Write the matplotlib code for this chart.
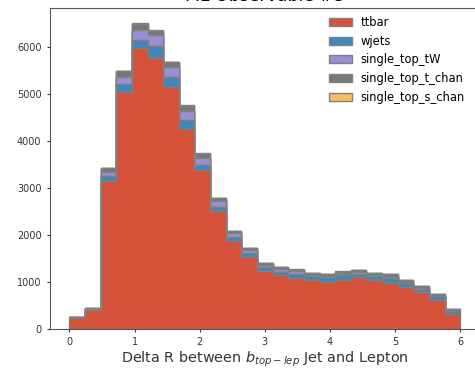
import numpy as np
import matplotlib
matplotlib.use('Agg')
import matplotlib.pyplot as plt

# bin edges: 25 bins between 0 and 6
edges = np.linspace(0, 6, 26)
centers = 0.5 * (edges[:-1] + edges[1:])

labels = ['ttbar', 'wjets', 'single_top_tW', 'single_top_t_chan', 'single_top_s_chan']
colors = ['#D4523A', '#3F86BC', '#9A8FD6', '#777777', '#F5BE5E']

ttbar = [230, 405, 3150, 5030, 5970, 5760, 5150, 4250, 3380, 2500, 1870, 1530, 1240,
         1145, 1090, 1040, 1000, 1045, 1115, 1040, 990, 905, 795, 620, 313]
wjets = [12, 18, 100, 178, 170, 262, 198, 198, 110, 85, 90, 85, 76,
         72, 92, 82, 107, 107, 67, 87, 102, 67, 57, 77, 62]
single_top_tW = [8, 14, 95, 155, 220, 220, 213, 190, 140, 128, 80, 64, 55,
                 60, 43, 35, 30, 30, 30, 28, 25, 22, 16, 12, 8]
single_top_t_chan = [10, 14, 75, 115, 120, 100, 110, 112, 100, 75, 45, 47, 36,
                     45, 41, 38, 37, 40, 40, 40, 44, 40, 38, 40, 40]
single_top_s_chan = [2, 2, 10, 12, 15, 13, 10, 10, 8, 6, 5, 4, 4,
                     4, 4, 3, 3, 3, 3, 3, 3, 2, 2, 2, 2]

series = [ttbar, wjets, single_top_tW, single_top_t_chan, single_top_s_chan]

fig = plt.figure(figsize=(4.75, 3.69), dpi=100)
ax = fig.add_axes([0.105, 0.108, 0.905, 0.870])

ax.hist([centers] * len(series), bins=edges, weights=series, stacked=True,
        histtype='stepfilled', color=colors, edgecolor='grey', linewidth=1,
        label=labels)

ax.set_title('ML Observable #5', fontsize=12.4, pad=5)
ax.set_xlabel(r'Delta R between $b_{top-lep}$ Jet and Lepton', fontsize=10.4,
              color='#333333', labelpad=1.5)
ax.tick_params(labelsize=7, length=2.5, colors='#333333')
for s in ax.spines.values():
    s.set_color('#555555')

# legend top-down in stacking order (ttbar first)
handles, labs = ax.get_legend_handles_labels()
order = [labs.index(l) for l in labels]
ax.legend([handles[i] for i in order], [labs[i] for i in order],
          loc='upper right', bbox_to_anchor=(0.99, 1.008), frameon=False, fontsize=8.3)

fig.savefig('out.png', dpi=100)
